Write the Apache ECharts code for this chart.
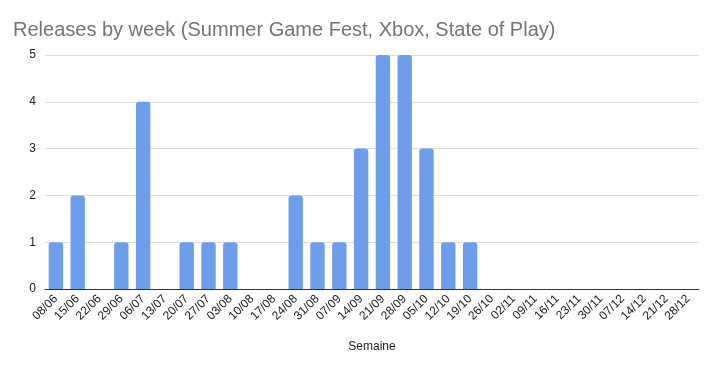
<!DOCTYPE html>
<html>
<head>
<meta charset="utf-8">
<script src="https://cdn.jsdelivr.net/npm/echarts@6/dist/echarts.min.js"></script>
<style>
  html, body { margin: 0; padding: 0; background: #fff; }
  #chart { width: 719px; height: 368px; }
</style>
</head>
<body>
<div id="chart"></div>
<script>
var weeks = ['08/06', '15/06', '22/06', '29/06', '06/07', '13/07', '20/07', '27/07', '03/08', '10/08',
  '17/08', '24/08', '31/08', '07/09', '14/09', '21/09', '28/09', '05/10', '12/10', '19/10',
  '26/10', '02/11', '09/11', '16/11', '23/11', '30/11', '07/12', '14/12', '21/12', '28/12'];
var releases = [1, 2, 0, 1, 4, 0, 1, 1, 1, 0,
  0, 2, 1, 1, 3, 5, 5, 3, 1, 1,
  0, 0, 0, 0, 0, 0, 0, 0, 0, 0];

var chart = echarts.init(document.getElementById('chart'));

chart.setOption({
  animation: false,
  title: {
    text: 'Releases by week (Summer Game Fest, Xbox, State of Play)',
    left: 8,
    top: 15,
    textStyle: { fontFamily: 'Liberation Sans', fontSize: 20, fontWeight: 'normal', color: '#757575' }
  },
  grid: { left: 45, right: 20, top: 55, bottom: 79 },
  xAxis: {
    type: 'category',
    data: weeks,
    name: 'Semaine',
    nameLocation: 'middle',
    nameGap: 52,
    nameTextStyle: { fontFamily: 'Liberation Sans', fontSize: 12, color: '#222' },
    axisLine: { lineStyle: { color: '#333', width: 1 } },
    axisTick: { show: false },
    axisLabel: { interval: 0, rotate: 45, fontFamily: 'Liberation Sans', fontSize: 12, color: '#222', margin: 8 }
  },
  yAxis: {
    type: 'value',
    min: 0,
    max: 5,
    interval: 1,
    axisLine: { show: false },
    axisTick: { show: false },
    axisLabel: { fontFamily: 'Liberation Sans', fontSize: 12, color: '#222', margin: 9 },
    splitLine: { lineStyle: { color: '#dddddd', width: 1 } }
  },
  series: [{
    type: 'bar',
    data: releases,
    barWidth: '66%',
    itemStyle: { color: '#6d9eeb', borderRadius: [3, 3, 0, 0] }
  }]
});
</script>
</body>
</html>
